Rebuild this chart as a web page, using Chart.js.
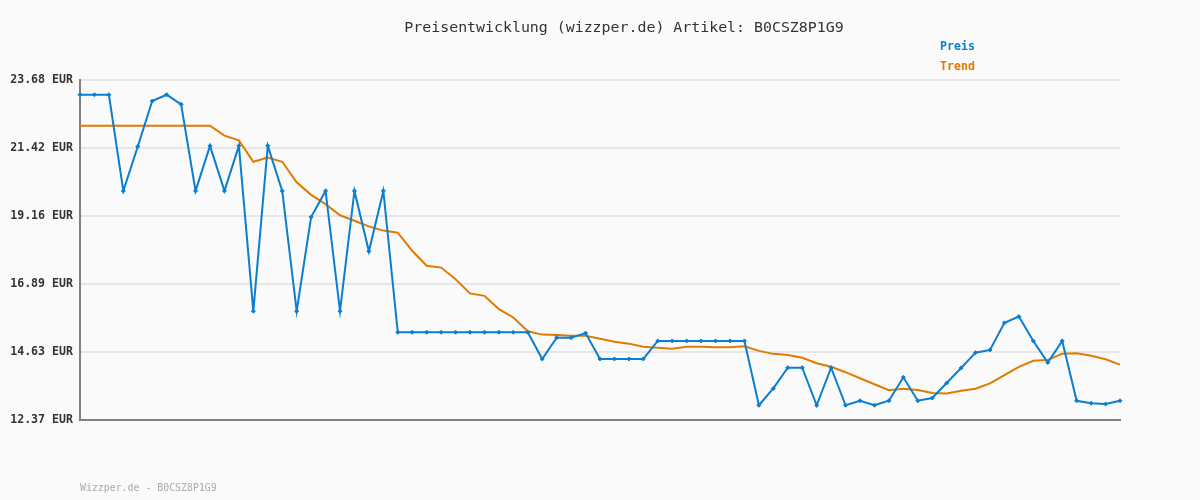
<!DOCTYPE html>
<html>

<head>
    <meta charset="utf-8" />
    <title>Preisentwicklung B0CSZ8P1G9</title>
    <script src="https://cdn.jsdelivr.net/npm/chart.js"></script>
    <style>
        html, body { margin: 0; padding: 0; background: #fafafa; }
        #wrap { width: 1200px; height: 500px; }
    </style>
</head>

<body>
    <div id="wrap"><canvas id="myChart" width="1200" height="500"></canvas></div>

    <script type="text/javascript">

        // price points (73 samples)
        const preis = [
            23.19, 23.19, 23.19, 19.99, 21.47, 22.98, 23.19, 22.87, 19.99, 21.49,
            19.99, 21.49, 15.99, 21.49, 19.99, 15.99, 19.12, 19.99, 15.99, 19.99,
            17.98, 19.99, 15.29, 15.29, 15.29, 15.29, 15.29, 15.29, 15.29, 15.29,
            15.29, 15.29, 14.40, 15.11, 15.11, 15.26, 14.40, 14.40, 14.40, 14.40,
            15.00, 15.00, 15.00, 15.00, 15.00, 15.00, 15.00, 12.86, 13.42, 14.11,
            14.11, 12.86, 14.11, 12.86, 13.01, 12.86, 13.01, 13.79, 13.01, 13.10,
            13.60, 14.10, 14.61, 14.70, 15.60, 15.81, 15.00, 14.28, 15.00, 13.01,
            12.93, 12.90, 13.01
        ];

        const trend = [
            22.16, 22.16, 22.16, 22.16, 22.16, 22.16, 22.16, 22.16, 22.16, 22.16,
            21.83, 21.67, 20.96, 21.10, 20.96, 20.28, 19.86, 19.55, 19.18, 19.00,
            18.81, 18.67, 18.60, 18.00, 17.50, 17.44, 17.05, 16.58, 16.50, 16.06,
            15.78, 15.32, 15.21, 15.20, 15.17, 15.17, 15.07, 14.97, 14.91, 14.81,
            14.77, 14.74, 14.81, 14.81, 14.79, 14.79, 14.82, 14.67, 14.57, 14.53,
            14.44, 14.26, 14.14, 13.96, 13.76, 13.56, 13.36, 13.41, 13.37, 13.27,
            13.25, 13.34, 13.41, 13.59, 13.86, 14.14, 14.34, 14.37, 14.57, 14.59,
            14.51, 14.39, 14.21
        ];

        const tickValues = [12.37, 14.63, 16.89, 19.16, 21.42, 23.68];
        const tickLabels = ["12.37 EUR", "14.63 EUR", "16.89 EUR", "19.16 EUR", "21.42 EUR", "23.68 EUR"];

        const labels = preis.map((v, i) => i + 1);

        const blue = '#0b7ecf';
        const orange = '#e07b00';
        const mono = '"DejaVu Sans Mono", "Liberation Mono", monospace';

        // title, legend and footer text
        const textPlugin = {
            id: 'texts',
            afterDraw(chart) {
                const ctx = chart.ctx;
                ctx.save();
                ctx.textBaseline = 'middle';
                ctx.textAlign = 'center';
                ctx.fillStyle = '#333';
                ctx.font = '14.9px ' + mono;
                ctx.fillText('Preisentwicklung (wizzper.de) Artikel: B0CSZ8P1G9', 624, 28);

                ctx.textAlign = 'left';
                ctx.font = 'bold 11.6px ' + mono;
                ctx.fillStyle = blue;
                ctx.fillText('Preis', 940, 47);
                ctx.fillStyle = orange;
                ctx.fillText('Trend', 940, 67);

                ctx.font = '9.9px ' + mono;
                ctx.fillStyle = '#aaa';
                ctx.fillText('Wizzper.de - B0CSZ8P1G9', 80, 488);
                ctx.restore();
            }
        };

        const ctx = document.getElementById('myChart');
        new Chart(ctx, {
            type: 'line',
            data: {
                labels: labels,
                datasets: [{
                    label: 'Trend',
                    data: trend,
                    borderColor: orange,
                    borderWidth: 2,
                    pointRadius: 0,
                    tension: 0,
                    order: 2
                }, {
                    label: 'Preis',
                    data: preis,
                    borderColor: blue,
                    backgroundColor: blue,
                    borderWidth: 2,
                    pointStyle: 'rectRot',
                    pointRadius: 2,
                    pointBorderWidth: 1,
                    tension: 0,
                    order: 1
                }]
            },
            options: {
                responsive: false,
                animation: false,
                layout: { padding: { left: 0, right: 80, top: 80, bottom: 80 } },
                plugins: {
                    legend: { display: false },
                    tooltip: { enabled: false }
                },
                scales: {
                    x: {
                        offset: false,
                        grid: { display: false },
                        ticks: { display: false },
                        border: { display: true, color: '#808080', width: 2 },
                        afterFit: s => { s.height = 0; }
                    },
                    y: {
                        min: 12.37,
                        max: 23.68,
                        afterBuildTicks: s => { s.ticks = tickValues.map(v => ({ value: v })); },
                        afterFit: s => { s.width = 80; },
                        grid: { color: '#e6e6e6', lineWidth: 2, drawTicks: false },
                        border: { display: true, color: '#808080', width: 2 },
                        ticks: {
                            padding: 7,
                            color: '#333',
                            font: { family: mono, size: 11.6, weight: 'bold' },
                            callback: (v, i) => tickLabels[i]
                        }
                    }
                }
            },
            plugins: [textPlugin]
        });

    </script>

</body>

</html>
